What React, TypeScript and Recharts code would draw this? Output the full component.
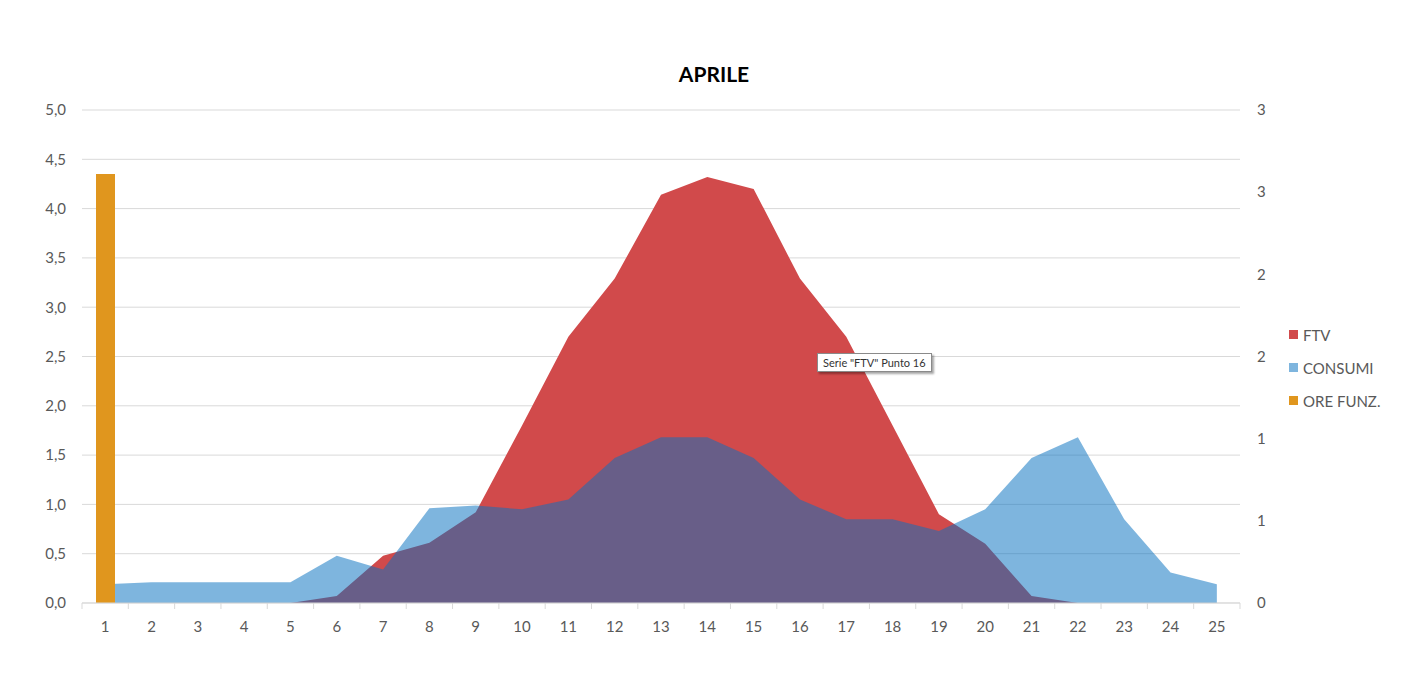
import { ComposedChart, Area, Bar, XAxis, YAxis, CartesianGrid } from 'recharts';

const hours = ['1', '2', '3', '4', '5', '6', '7', '8', '9', '10', '11', '12', '13', '14', '15', '16', '17', '18', '19', '20', '21', '22', '23', '24', '25'];
const ftv = [0, 0, 0, 0, 0, 0.07, 0.48, 0.61, 0.92, 1.8, 2.7, 3.29, 4.14, 4.32, 4.2, 3.29, 2.7, 1.8, 0.9, 0.6, 0.07, 0, 0, 0, 0];
const consumi = [0.19, 0.21, 0.21, 0.21, 0.21, 0.48, 0.34, 0.96, 0.99, 0.95, 1.05, 1.47, 1.68, 1.68, 1.47, 1.05, 0.85, 0.85, 0.73, 0.95, 1.47, 1.68, 0.85, 0.31, 0.19];
// ore di funzionamento on the secondary axis
const oreFunz = [2.61, 0, 0, 0, 0, 0, 0, 0, 0, 0, 0, 0, 0, 0, 0, 0, 0, 0, 0, 0, 0, 0, 0, 0, 0];
const leftTicks = [0, 0.5, 1, 1.5, 2, 2.5, 3, 3.5, 4, 4.5, 5];
const rightTicks = [0, 0.5, 1, 1.5, 2, 2.5, 3];

const data = hours.map((h, i) => ({ hour: h, ftv: ftv[i], consumi: consumi[i], ore: oreFunz[i] || null }));

const FONT = 'Lato, "Open Sans", sans-serif';
const GREY = '#595959';
const RED = '#D14A4B';
const BLUE = '#0771BF';
const ORANGE = '#E0961E';

const legendItems = [
  { name: 'FTV', color: RED },
  { name: 'CONSUMI', color: '#7EB5DE' },
  { name: 'ORE FUNZ.', color: ORANGE },
];

function HourTick(props: any) {
  const { x, y, payload, index } = props;
  const off = payload?.offset || 23.16;
  return (
    <g>
      <line x1={x - off} x2={x - off} y1={y} y2={y + 6} stroke="#D9D9D9" />
      {index === hours.length - 1 && <line x1={x + off} x2={x + off} y1={y} y2={y + 6} stroke="#D9D9D9" />}
      <text x={x} y={y + 29} textAnchor="middle" fill={GREY} fontSize={15} fontFamily={FONT}>
        {payload.value}
      </text>
    </g>
  );
}

export default function App() {
  return (
    <div style={{ position: 'relative', width: 1407, height: 666, background: '#fff' }}>
      <div style={{ position: 'absolute', left: 0, width: 1412, top: 53, textAlign: 'center', fontFamily: FONT, fontWeight: 700, fontSize: 21, color: '#000' }}>
        APRILE
      </div>
      <ComposedChart width={1407} height={666} data={data} margin={{ top: 102, right: 125, bottom: 41, left: 14 }}>
        <CartesianGrid vertical={false} stroke="#D9D9D9" yAxisId="left" />
        <XAxis dataKey="hour" height={30} stroke="#D9D9D9" tickLine={false} tickSize={0} tickMargin={0} tick={<HourTick />} interval={0} />
        <YAxis yAxisId="left" width={60} domain={[0, 5]} ticks={leftTicks} axisLine={false} tickLine={false} tickSize={0} tickMargin={16}
          tick={{ fill: GREY, fontSize: 15, fontFamily: FONT }} tickFormatter={(v: number) => v.toFixed(1).replace('.', ',')} />
        <YAxis yAxisId="right" orientation="right" width={50} domain={[0, 3]} ticks={rightTicks} axisLine={false} tickLine={false} tickSize={0} tickMargin={17}
          tick={{ fill: GREY, fontSize: 15, fontFamily: FONT, textAnchor: 'start' }} tickFormatter={(v: number) => String(Math.round(v))} />
        <Area yAxisId="left" dataKey="ftv" name="FTV" type="linear" stroke="none" fill={RED} fillOpacity={1} isAnimationActive={false} />
        <Area yAxisId="left" dataKey="consumi" name="CONSUMI" type="linear" stroke="none" fill={BLUE} fillOpacity={0.52} isAnimationActive={false} />
        <Bar yAxisId="right" dataKey="ore" name="ORE FUNZ." fill={ORANGE} barSize={19} isAnimationActive={false} />
      </ComposedChart>
      <div style={{ position: 'absolute', left: 1281, top: 310, fontFamily: FONT, fontSize: 15, color: GREY }}>
        {legendItems.map(it => (
          <div key={it.name} style={{ display: 'flex', alignItems: 'center', height: 33 }}>
            <span style={{ width: 9, height: 9, background: it.color, marginRight: 5, display: 'inline-block' }} />
            {it.name}
          </div>
        ))}
      </div>
      <div style={{ position: 'absolute', left: 809, top: 345, padding: '2px 5px', background: '#fff', border: '1px solid #8a8a8a', boxShadow: '2px 2px 2px rgba(0,0,0,0.35)', fontFamily: FONT, fontSize: 11, color: '#333', whiteSpace: 'nowrap' }}>
        Serie "FTV" Punto 16
      </div>
    </div>
  );
}
